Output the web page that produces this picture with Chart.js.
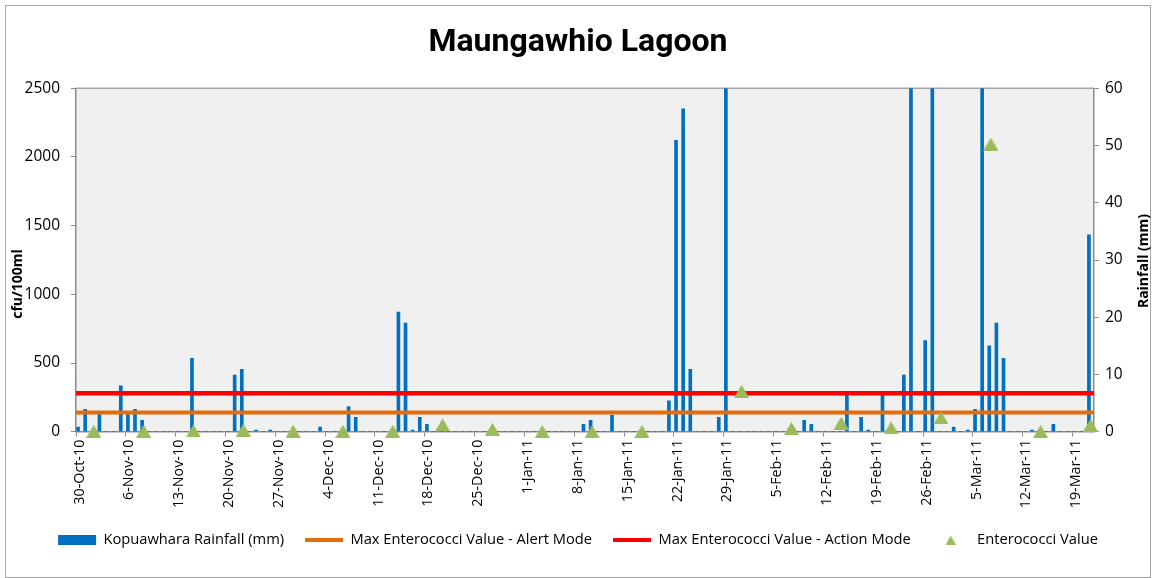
<!DOCTYPE html>
<html>
<head>
<meta charset="utf-8">
<script src="https://cdn.jsdelivr.net/npm/chart.js@4.4.1/dist/chart.umd.min.js"></script>
<style>
  html, body { margin: 0; padding: 0; background: #ffffff; }
  #wrap { width: 1156px; height: 578px; }
</style>
</head>
<body>
<div id="wrap"><canvas id="c" width="1156" height="578"></canvas></div>
<script>
// ---------------- DATA ----------------
const chartTitle = 'Maungawhio Lagoon';
const startDate = [2010, 9, 30]; // 30-Oct-10, first daily category
const monthNames = ['Jan','Feb','Mar','Apr','May','Jun','Jul','Aug','Sep','Oct','Nov','Dec'];

// Daily Kopuawhara rainfall (mm), 30-Oct-10 .. 21-Mar-11
const rainfall = [
  0.8, 3.9, 0, 3.0, 0, 0, 8.0,
  3.0, 3.9, 2.0, 0, 0, 0, 0,
  0, 0, 12.8, 0, 0, 0, 0,
  0, 9.9, 10.9, 0, 0.3, 0, 0.3,
  0, 0, 0, 0, 0, 0, 0.8,
  0, 0, 0, 4.4, 2.5, 0, 0,
  0, 0, 0, 20.9, 19.0, 0.3, 2.5,
  1.3, 0, 0, 0, 0, 0, 0,
  0, 0, 0, 0, 0, 0, 0,
  0, 0, 0, 0, 0, 0, 0,
  0, 1.3, 2.0, 0, 0, 2.9, 0,
  0, 0, 0, 0, 0, 0, 5.4,
  50.9, 56.4, 10.9, 0, 0, 0, 2.5,
  72, 0, 0, 0, 0, 0, 0,
  0, 0, 0, 0, 2.0, 1.3, 0,
  0, 0, 0, 6.4, 0, 2.5, 0.3,
  0, 6.4, 0, 0, 9.9, 80, 0,
  15.9, 65, 0, 0, 0.8, 0, 0.3,
  3.9, 70, 15.0, 19.0, 12.8, 0, 0,
  0, 0.3, 0, 0, 1.3, 0, 0,
  0, 0, 34.4
];

// Enterococci samples (cfu/100ml)
const sampleDates = ['1-Nov-10','8-Nov-10','15-Nov-10','22-Nov-10','29-Nov-10','6-Dec-10','13-Dec-10',
  '20-Dec-10','27-Dec-10','3-Jan-11','10-Jan-11','17-Jan-11','31-Jan-11','7-Feb-11','14-Feb-11',
  '21-Feb-11','28-Feb-11','7-Mar-11','14-Mar-11','21-Mar-11'];
const enterococci = [4, 4, 6, 12, 4, 4, 4, 50, 17, 2, 2, 4, 294, 24, 63, 28, 102, 2094, 2, 47];

const alertMode = 140;
const actionMode = 280;

const tickLabels = ['30-Oct-10','6-Nov-10','13-Nov-10','20-Nov-10','27-Nov-10','4-Dec-10','11-Dec-10',
  '18-Dec-10','25-Dec-10','1-Jan-11','8-Jan-11','15-Jan-11','22-Jan-11','29-Jan-11','5-Feb-11',
  '12-Feb-11','19-Feb-11','26-Feb-11','5-Mar-11','12-Mar-11','19-Mar-11'];
const leftTicks = [0, 500, 1000, 1500, 2000, 2500];
const rightTicks = [0, 10, 20, 30, 40, 50, 60];

const seriesNames = ['Kopuawhara Rainfall (mm)', 'Max Enterococci Value - Alert Mode',
  'Max Enterococci Value - Action Mode', 'Enterococci Value'];
const axisTitles = { left: 'cfu/100ml', right: 'Rainfall (mm)' };

// ---------------- BUILD ----------------
const dayLabels = rainfall.map((_, i) => {
  const d = new Date(Date.UTC(startDate[0], startDate[1], startDate[2]) + i * 86400000);
  return d.getUTCDate() + '-' + monthNames[d.getUTCMonth()] + '-' + String(d.getUTCFullYear()).slice(2);
});

const BLUE = '#0070C0', ORANGE = '#E46C0A', RED = '#FF0000', GREEN = '#9BBB59';
const AXIS = '#8C8C8C';
const FONT = "'Open Sans', 'Liberation Sans', sans-serif";

function triCanvas(w, h) {
  const c = document.createElement('canvas');
  c.width = w; c.height = h;
  const g = c.getContext('2d');
  g.fillStyle = GREEN;
  g.beginPath();
  g.moveTo(w / 2, 0); g.lineTo(w, h); g.lineTo(0, h); g.closePath();
  g.fill();
  return c;
}
const triPoint = triCanvas(15, 13);
const triLegend = triCanvas(10, 9);

const bgPlugin = {
  id: 'bg',
  beforeDraw(chart) {
    const { ctx, chartArea: a } = chart;
    ctx.save();
    ctx.fillStyle = '#ffffff';
    ctx.fillRect(0, 0, chart.width, chart.height);
    ctx.strokeStyle = '#A6A6A6';
    ctx.lineWidth = 1;
    ctx.strokeRect(5.5, 5.5, chart.width - 11, chart.height - 6);
    ctx.fillStyle = '#F0F0F0';
    ctx.fillRect(a.left, a.top, a.right - a.left, a.bottom - a.top);
    ctx.strokeStyle = '#A6A6A6';
    ctx.lineWidth = 1.5;
    ctx.beginPath();
    ctx.moveTo(a.left, a.top); ctx.lineTo(a.right, a.top);
    ctx.stroke();
    ctx.restore();
  },
  afterDraw(chart) {
    const { ctx } = chart;
    const drawV = (txt, x, y) => {
      ctx.save();
      ctx.fillStyle = '#000';
      ctx.font = 'bold 14px ' + FONT;
      ctx.textAlign = 'center';
      ctx.textBaseline = 'middle';
      ctx.translate(x, y);
      ctx.rotate(-Math.PI / 2);
      ctx.fillText(txt, 0, 0);
      ctx.restore();
    };
    drawV(axisTitles.left, 18, 284);
    drawV(axisTitles.right, 1144, 261);
  }
};

const isTick = (i) => tickLabels.includes(dayLabels[i]);

new Chart(document.getElementById('c'), {
  type: 'bar',
  data: {
    labels: dayLabels,
    datasets: [
      {
        type: 'bar', label: seriesNames[0], data: rainfall,
        xAxisID: 'x', yAxisID: 'y1',
        backgroundColor: BLUE, borderWidth: 0, barThickness: 3, order: 3
      },
      {
        type: 'line', label: seriesNames[1],
        data: [{ x: 0, y: alertMode }, { x: 1, y: alertMode }],
        xAxisID: 'x2', yAxisID: 'y',
        borderColor: ORANGE, borderWidth: 4, pointRadius: 0, order: 2
      },
      {
        type: 'line', label: seriesNames[2],
        data: [{ x: 0, y: actionMode }, { x: 1, y: actionMode }],
        xAxisID: 'x2', yAxisID: 'y',
        borderColor: RED, borderWidth: 4.5, pointRadius: 0, order: 2
      },
      {
        type: 'line', label: seriesNames[3],
        data: sampleDates.map((d, i) => ({ x: d, y: enterococci[i] })),
        xAxisID: 'x', yAxisID: 'y',
        showLine: false, pointStyle: triPoint, pointRadius: 7,
        backgroundColor: GREEN, borderColor: GREEN, clip: false, order: 1
      }
    ]
  },
  options: {
    responsive: false,
    animation: false,
    devicePixelRatio: 1,
    layout: { padding: { left: 0, right: 0, top: 0, bottom: 20.65 } },
    plugins: {
      tooltip: { enabled: false },
      title: {
        display: true, text: chartTitle, color: '#000',
        font: { family: "Roboto, 'Open Sans', sans-serif", size: 32, weight: 'bold', lineHeight: 1.2 },
        padding: { top: 23.3, bottom: 26.6 }
      },
      legend: {
        position: 'bottom',
        labels: {
          usePointStyle: true, pointStyleWidth: 38, boxHeight: 10,
          padding: 21, color: '#000',
          font: { family: FONT, size: 14.7 },
          generateLabels: () => [
            { text: seriesNames[0], pointStyle: 'rect', fillStyle: BLUE, strokeStyle: BLUE, lineWidth: 0, datasetIndex: 0 },
            { text: seriesNames[1], pointStyle: 'line', fillStyle: ORANGE, strokeStyle: ORANGE, lineWidth: 4, datasetIndex: 1 },
            { text: seriesNames[2], pointStyle: 'line', fillStyle: RED, strokeStyle: RED, lineWidth: 4, datasetIndex: 2 },
            { text: seriesNames[3], pointStyle: triLegend, fillStyle: GREEN, strokeStyle: GREEN, lineWidth: 0, datasetIndex: 3 }
          ]
        }
      }
    },
    scales: {
      x: {
        type: 'category', offset: true,
        afterFit: (s) => { s.height = 79.95; },
        grid: {
          offset: true, drawOnChartArea: false, drawTicks: true, tickLength: 5,
          color: (c) => (c.index !== undefined && isTick(c.index)) ? AXIS : 'rgba(0,0,0,0)'
        },
        border: { color: AXIS, width: 1.5 },
        ticks: {
          autoSkip: false, maxRotation: 90, minRotation: 90, padding: 3,
          color: '#000', font: { family: FONT, size: 14.3 },
          callback: (v, i) => isTick(i) ? dayLabels[i] : ''
        }
      },
      x2: { type: 'linear', min: 0, max: 1, display: false, offset: false, grace: 0 },
      y: {
        position: 'left', min: 0, max: 2500,
        afterFit: (s) => { s.width = 76; },
        afterBuildTicks: (s) => { s.ticks = leftTicks.map(v => ({ value: v })); },
        grid: { drawOnChartArea: false, tickLength: 5, color: AXIS },
        border: { color: AXIS, width: 1.5 },
        ticks: { padding: 11, color: '#000', font: { family: FONT, size: 15.5 }, callback: (v) => String(v) }
      },
      y1: {
        position: 'right', min: 0, max: 60,
        afterFit: (s) => { s.width = 62; },
        afterBuildTicks: (s) => { s.ticks = rightTicks.map(v => ({ value: v })); },
        grid: { drawOnChartArea: false, tickLength: 5, color: AXIS },
        border: { color: AXIS, width: 1.5 },
        ticks: { padding: 6, color: '#000', font: { family: FONT, size: 15.5 }, callback: (v) => String(v) }
      }
    }
  },
  plugins: [bgPlugin]
});
</script>
</body>
</html>
